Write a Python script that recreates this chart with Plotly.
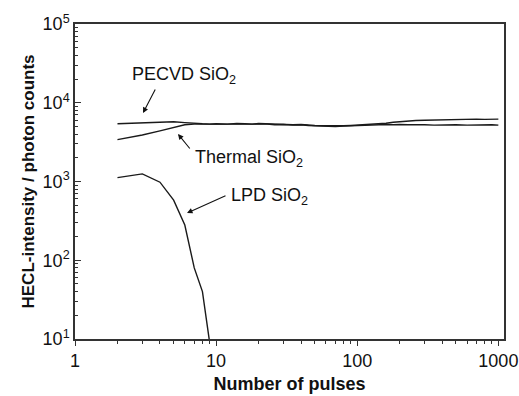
import plotly.graph_objects as go

# ---- data ----
pulses_main = [2, 3, 4, 5, 6, 7, 8, 9, 10, 12, 14, 16, 18, 20, 23, 26, 30, 35, 40, 45, 50,
               60, 70, 80, 90, 100, 120, 140, 160, 180, 200, 230, 260, 300, 350, 400, 450,
               500, 600, 700, 800, 900, 1000]
pecvd = [5400, 5550, 5650, 5750, 5600, 5450, 5400, 5350, 5400, 5350, 5450, 5400, 5350, 5450,
         5400, 5300, 5350, 5250, 5300, 5200, 5150, 5100, 5050, 5100, 5150, 5200, 5250, 5350,
         5500, 5650, 5750, 5850, 5950, 6000, 6050, 6100, 6150, 6100, 6150, 6200, 6150, 6200, 6200]
thermal = [3400, 3900, 4400, 4900, 5250, 5350, 5350, 5300, 5350, 5400, 5300, 5350, 5400, 5300,
           5350, 5250, 5300, 5200, 5250, 5150, 5100, 5050, 5000, 5050, 5100, 5150, 5200, 5250,
           5300, 5250, 5300, 5250, 5300, 5250, 5200, 5250, 5200, 5250, 5200, 5250, 5200, 5250, 5200]
pulses_lpd = [2, 3, 4, 5, 6, 7, 8, 9]
lpd = [1120, 1250, 980, 580, 280, 80, 40, 9]

x_ticks = [1, 10, 100, 1000]
x_ticktext = ["1", "10", "100", "1000"]
y_ticks = [10, 100, 1000, 10000, 100000]
y_ticktext = ["10<sup>1</sup>", "10<sup>2</sup>", "10<sup>3</sup>", "10<sup>4</sup>", "10<sup>5</sup>"]
x_minor = [m * d for d in (1, 10, 100) for m in range(2, 10)]
y_minor = [m * d for d in (10, 100, 1000, 10000) for m in range(2, 10)]

FONT = "Liberation Sans, Arial, Helvetica, sans-serif"
LINE = "#1a1a1a"

fig = go.Figure()
for xs, ys in ((pulses_main, pecvd), (pulses_main, thermal), (pulses_lpd, lpd)):
    fig.add_trace(go.Scatter(x=xs, y=ys, mode="lines",
                             line=dict(color=LINE, width=1.4), showlegend=False))

W, H = 519, 396
L, R, T, B = 75, 15, 24, 57
pw, ph = W - L - R, H - T - B


def px(x):
    return (x - L) / pw


def py(y):
    return (H - B - y) / ph


labels = [("PECVD SiO<sub>2</sub>", 184, 75), ("Thermal SiO<sub>2</sub>", 249, 158),
          ("LPD SiO<sub>2</sub>", 269, 196)]
for txt, cx, cy in labels:
    fig.add_annotation(text=txt, x=px(cx), y=py(cy), xref="paper", yref="paper",
                       showarrow=False, xanchor="center", yanchor="middle",
                       font=dict(family=FONT, size=18, color="#111"))

arrows = [((156, 88), (143, 113)), ((191, 150), (178, 134)), ((227, 195), (187, 213))]
for (tx, ty), (hx, hy) in arrows:
    fig.add_annotation(text="", x=px(hx), y=py(hy), xref="paper", yref="paper",
                       ax=tx - hx, ay=ty - hy, axref="pixel", ayref="pixel",
                       showarrow=True, arrowhead=2, arrowsize=1, arrowwidth=1.1,
                       arrowcolor="#111")

fig.update_xaxes(type="log", range=[0, 3.04], tickmode="array", tickvals=x_ticks,
                 ticktext=x_ticktext, ticks="outside", ticklen=5, tickwidth=1.2,
                 tickcolor="#333", showline=True, linecolor="#333", linewidth=1.5,
                 mirror=True, showgrid=False, zeroline=False,
                 minor=dict(tickmode="array", tickvals=x_minor, ticks="outside",
                            ticklen=3, tickcolor="#333", showgrid=False),
                 tickfont=dict(family=FONT, size=18, color="#111"),
                 title=dict(text="<b>Number of pulses</b>", standoff=7,
                            font=dict(family=FONT, size=18, color="#111")))
fig.update_yaxes(type="log", range=[1, 5], tickmode="array", tickvals=y_ticks,
                 ticktext=y_ticktext, ticks="inside", ticklen=6, tickwidth=1.2,
                 tickcolor="#333", showline=True, linecolor="#333", linewidth=1.5,
                 mirror=True, showgrid=False, zeroline=False,
                 minor=dict(tickmode="array", tickvals=y_minor, ticks="inside",
                            ticklen=3, tickcolor="#333", showgrid=False),
                 tickfont=dict(family=FONT, size=18, color="#111"),
                 title=dict(text="<b>HECL-intensity / photon counts</b>", standoff=4,
                            font=dict(family=FONT, size=17, color="#111")))

fig.update_layout(width=W, height=H, margin=dict(l=L, r=R, t=T, b=B, autoexpand=False),
                  paper_bgcolor="white", plot_bgcolor="white")
fig.write_html("out.html")
